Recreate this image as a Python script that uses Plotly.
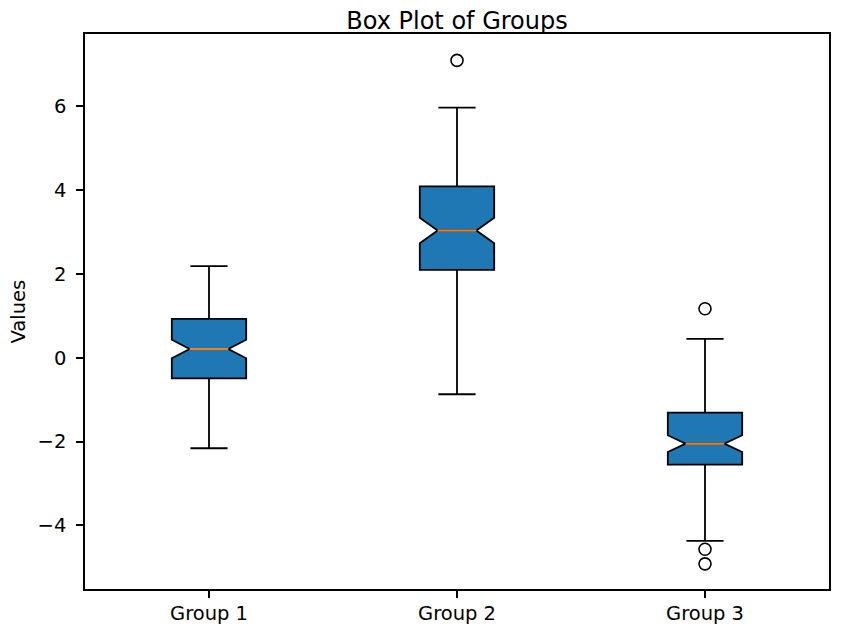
import plotly.graph_objects as go

# values
groups = ["Group 1", "Group 2", "Group 3"]
positions = [1, 2, 3]
q1 = [-0.49, 2.10, -2.55]
median = [0.21, 3.04, -2.05]
q3 = [0.93, 4.09, -1.31]
lowerfence = [-2.16, -0.87, -4.37]
upperfence = [2.19, 5.97, 0.45]
notchspan = [0.22, 0.305, 0.20]
outlier_x = [2, 3, 3, 3]
outlier_y = [7.10, 1.17, -4.57, -4.92]
y_ticks = [-4, -2, 0, 2, 4, 6]

box_width = 0.3
notch_width = 0.24
font = "DejaVu Sans"

fig = go.Figure()

fig.add_trace(go.Box(
    x=positions,
    q1=q1,
    median=median,
    q3=q3,
    lowerfence=lowerfence,
    upperfence=upperfence,
    notchspan=notchspan,
    notched=True,
    notchwidth=notch_width,
    width=box_width,
    whiskerwidth=0.5,
    boxpoints=False,
    fillcolor="#1f77b4",
    line=dict(color="black", width=1.8),
    showlegend=False,
))

# orange median lines, like matplotlib's default
half = box_width / 2 * (1 - 2 * notch_width)
for p, m in zip(positions, median):
    fig.add_trace(go.Scatter(
        x=[p - half, p + half],
        y=[m, m],
        mode="lines",
        line=dict(color="#ff7f0e", width=2),
        showlegend=False,
        hoverinfo="skip",
    ))

fig.add_trace(go.Scatter(
    x=outlier_x,
    y=outlier_y,
    mode="markers",
    marker=dict(symbol="circle-open", size=12, color="black", line=dict(width=1.6)),
    showlegend=False,
))

# page body adds an 8px offset, so the figure is 8px smaller than the window
fig.update_layout(
    width=842,
    height=620,
    margin=dict(l=77, r=21, t=26, b=39),
    plot_bgcolor="white",
    paper_bgcolor="white",
    font=dict(family=font, size=19.5, color="black"),
    title=dict(text="Box Plot of Groups", x=0.5, xref="paper", xanchor="center",
               y=1 - 12.5 / 620, yanchor="middle", font=dict(size=24, color="black")),
    annotations=[dict(
        text="Values", textangle=-90, xref="paper", yref="paper",
        x=0, y=0.5, xanchor="center", yanchor="middle", xshift=-67,
        showarrow=False, font=dict(size=19.5),
    )],
)
fig.update_xaxes(
    range=[0.5, 3.5],
    tickvals=positions,
    ticktext=groups,
    automargin=False,
    showline=True, mirror=True, linecolor="black", linewidth=1.5,
    ticks="outside", ticklen=7, tickwidth=1.5, tickcolor="black",
    ticklabelstandoff=-1,
    showgrid=False, zeroline=False,
)
fig.update_yaxes(
    range=[-5.52, 7.73],
    tickvals=y_ticks,
    ticktext=[str(t).replace("-", "\u2212") for t in y_ticks],
    automargin=False,
    showline=True, mirror=True, linecolor="black", linewidth=1.5,
    ticks="outside", ticklen=7, tickwidth=1.5, tickcolor="black",
    ticklabelstandoff=6,
    showgrid=False, zeroline=False,
)

fig.write_html("out.html")
